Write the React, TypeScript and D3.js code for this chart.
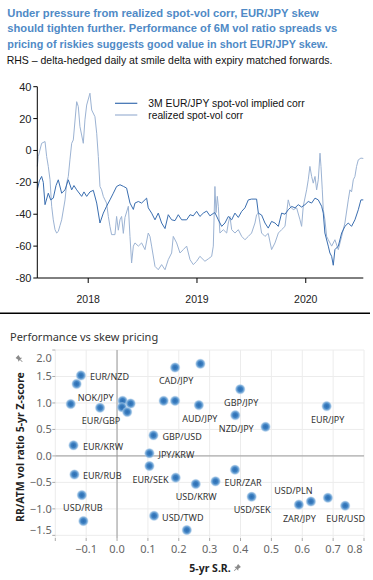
import React, { useLayoutEffect, useRef } from "react";
import * as d3 from "d3";

const titleLines = [
  "Under pressure from realized spot-vol corr, EUR/JPY skew",
  "should tighten further. Performance of 6M vol ratio spreads vs",
  "pricing of riskies suggests good value in short EUR/JPY skew.",
];
const subtitle = "RHS \u2013 delta-hedged daily at smile delta with expiry matched forwards.";

// top chart: time in decimal years, value in corr points
const seriesNames = ["3M EUR/JPY spot-vol implied corr", "realized spot-vol corr"];
const yearTicks = [2018, 2019, 2020];
const corrTicks = [40, 20, 0, -20, -40, -60, -80];

const impliedCorr: [number, number][] = [
  [2017.532, -24.7], [2017.551, -19], [2017.572, -16.3], [2017.587, -20], [2017.603, -34],
  [2017.633, -26.8], [2017.655, -31], [2017.679, -29.9], [2017.704, -22], [2017.725, -18.4],
  [2017.756, -26.8], [2017.787, -24.7], [2017.817, -18.4], [2017.848, -24.7], [2017.869, -22],
  [2017.894, -24.7], [2017.94, -28.8], [2017.961, -26], [2017.986, -28.8], [2018.016, -26],
  [2018.047, -25], [2018.078, -33], [2018.108, -45.5], [2018.139, -39.3], [2018.169, -35],
  [2018.2, -31], [2018.231, -26.8], [2018.261, -22.6], [2018.292, -21.5], [2018.323, -22.5],
  [2018.353, -23.6], [2018.384, -33], [2018.415, -37], [2018.43, -33], [2018.461, -32],
  [2018.491, -33], [2018.537, -29.9], [2018.552, -36], [2018.583, -39.3], [2018.614, -43.5],
  [2018.644, -39.3], [2018.675, -45.5], [2018.706, -49], [2018.736, -40.3], [2018.767, -43.5],
  [2018.798, -44], [2018.828, -40.3], [2018.859, -43.5], [2018.905, -43.5], [2018.936, -40.3],
  [2018.966, -41], [2018.997, -38.2], [2019.027, -41.4], [2019.058, -39.3], [2019.089, -38],
  [2019.119, -41], [2019.15, -39.5], [2019.165, -39], [2019.196, -43.5], [2019.227, -47.6],
  [2019.257, -45.5], [2019.288, -41.4], [2019.319, -43.5], [2019.349, -39.3], [2019.38, -42],
  [2019.411, -38.2], [2019.441, -36], [2019.472, -31], [2019.502, -30.5], [2019.548, -30.5],
  [2019.564, -39.3], [2019.594, -40.5], [2019.625, -45.5], [2019.655, -48.7], [2019.686, -44.5],
  [2019.717, -45.5], [2019.748, -47.6], [2019.778, -39.3], [2019.809, -40], [2019.839, -37.2],
  [2019.87, -35.1], [2019.901, -36], [2019.931, -34], [2019.962, -35.5], [2019.993, -34],
  [2020.023, -32], [2020.054, -33], [2020.085, -29.9], [2020.115, -31], [2020.146, -35],
  [2020.161, -39.3], [2020.176, -51.8], [2020.207, -60], [2020.222, -64.3], [2020.238, -66.4],
  [2020.253, -72], [2020.268, -62.2], [2020.299, -60], [2020.33, -51.8], [2020.36, -47.6],
  [2020.391, -45.5], [2020.421, -47.6], [2020.452, -43.5], [2020.483, -37.2], [2020.507, -31],
  [2020.529, -31],
];

const realizedCorr: [number, number][] = [
  [2017.532, -10], [2017.541, -3.8], [2017.572, 4.5], [2017.603, 5.6], [2017.618, -3.8],
  [2017.633, -10], [2017.649, -18.4], [2017.664, -35], [2017.679, -43.5], [2017.695, -49.7],
  [2017.71, -51.8], [2017.725, -50.8], [2017.741, -47], [2017.756, -43.5], [2017.787, -31],
  [2017.802, -20.5], [2017.817, -16.3], [2017.832, -5.9], [2017.848, 4.5], [2017.863, 6.6],
  [2017.894, 30.6], [2017.909, 27.5], [2017.924, 15], [2017.955, 4.5], [2017.97, 19.2],
  [2017.986, 28.5], [2018.016, 35.9], [2018.032, 25.4], [2018.062, 21.2], [2018.078, 10.8],
  [2018.093, -3.8], [2018.108, -22.6], [2018.123, -24.7], [2018.139, -28.8], [2018.154, -31],
  [2018.169, -33], [2018.185, -41.4], [2018.2, -47.6], [2018.215, -52.8], [2018.246, -52.8],
  [2018.261, -41.4], [2018.277, -50], [2018.292, -43.5], [2018.307, -41.4], [2018.323, -52],
  [2018.338, -42], [2018.369, -35], [2018.384, -53.9], [2018.399, -70.6], [2018.415, -60],
  [2018.43, -58], [2018.461, -60], [2018.491, -58], [2018.522, -62.2], [2018.552, -51.8],
  [2018.568, -54], [2018.583, -60], [2018.614, -72.7], [2018.644, -74.8], [2018.675, -71.6],
  [2018.706, -74.8], [2018.736, -68.5], [2018.767, -64.3], [2018.782, -53.9], [2018.813, -58],
  [2018.844, -64.3], [2018.874, -62.2], [2018.905, -60], [2018.936, -68.5], [2018.966, -71.6],
  [2018.997, -69.5], [2019.027, -66.4], [2019.073, -69.5], [2019.104, -68], [2019.135, -66.4],
  [2019.15, -60], [2019.165, -22.6], [2019.175, -39], [2019.187, -28.8], [2019.196, -35],
  [2019.211, -51.8], [2019.242, -49.7], [2019.273, -51.8], [2019.288, -45.5], [2019.303, -41.4],
  [2019.319, -49.7], [2019.349, -51.8], [2019.38, -49.7], [2019.411, -53.9], [2019.441, -56],
  [2019.472, -53.9], [2019.502, -51.8], [2019.533, -45.5], [2019.548, -40.3], [2019.564, -39.3],
  [2019.579, -45.5], [2019.594, -51.8], [2019.625, -53.9], [2019.655, -52], [2019.686, -62.2],
  [2019.717, -58], [2019.748, -51.8], [2019.778, -49.7], [2019.809, -47.6], [2019.839, -31],
  [2019.855, -35], [2019.885, -37.2], [2019.916, -36], [2019.947, -43.5], [2019.962, -47.6],
  [2019.977, -35], [2020.008, -24.7], [2020.023, -18.4], [2020.038, -10], [2020.054, -16.3],
  [2020.069, -20.5], [2020.085, -16.3], [2020.1, -24.7], [2020.115, -18.4], [2020.131, -1.7],
  [2020.14, -10], [2020.152, -24.7], [2020.161, -37.2], [2020.176, -43.5], [2020.192, -53.9],
  [2020.207, -56], [2020.238, -60], [2020.268, -56], [2020.299, -62.2], [2020.33, -53.9],
  [2020.36, -45.5], [2020.391, -31], [2020.406, -24.7], [2020.421, -26], [2020.437, -18.4],
  [2020.452, -16.3], [2020.467, -10], [2020.483, -5.9], [2020.507, -4.8], [2020.529, -5],
];

// bottom chart
const scatterTitle = "Performance vs skew pricing";
const xTitle = "5-yr S.R.";
const yTitle = "RR/ATM vol ratio 5-yr Z-score";
const pairLabels = [
  "EUR/NZD", "NOK/JPY", "", "EUR/GBP", "", "", "", "", "", "", "CAD/JPY", "", "AUD/JPY",
  "GBP/JPY", "NZD/JPY", "", "EUR/JPY", "GBP/USD", "JPY/KRW", "EUR/KRW", "EUR/RUB", "EUR/SEK",
  "", "USD/KRW", "EUR/ZAR", "", "USD/SEK", "ZAR/JPY", "USD/PLN", "", "EUR/USD", "USD/RUB", "",
  "USD/TWD", "",
];
const sharpe = [
  -0.117, -0.131, -0.15, -0.055, 0.018, 0.016, 0.044, 0.033, 0.151, 0.188, 0.188, 0.27, 0.265,
  0.399, 0.383, 0.481, 0.679, 0.118, 0.105, -0.141, -0.138, 0.105, 0.19, 0.255, 0.319, 0.382,
  0.436, 0.589, 0.628, 0.683, 0.739, -0.114, -0.109, 0.12, 0.226,
];
const zScore = [
  1.52, 1.36, 0.98, 0.91, 1.04, 0.92, 0.99, 0.83, 1.04, 1.04, 1.67, 1.74, 0.96,
  1.26, 0.77, 0.55, 0.94, 0.39, 0.05, 0.2, -0.35, -0.19, -0.41, -0.53, -0.48, -0.26,
  -0.77, -0.92, -0.86, -0.79, -0.94, -0.74, -1.23, -1.13, -1.4,
];
const srTicks = [-0.1, 0, 0.1, 0.2, 0.3, 0.4, 0.5, 0.6, 0.7, 0.8];
const zTicks = [2, 1.5, 1, 0.5, 0, -0.5, -1, -1.5];

// label offsets from the mark: dx, dy (baseline), anchor
const labelPlace: Record<string, [number, number, string]> = {
  "EUR/NZD": [9, 5, "start"],
  "NOK/JPY": [19, 17.5, "middle"],
  "EUR/GBP": [1, 16, "middle"],
  "CAD/JPY": [1, 17, "middle"],
  "GBP/JPY": [1, 17, "middle"],
  "AUD/JPY": [1, 16.5, "middle"],
  "NZD/JPY": [1, 17, "middle"],
  "EUR/JPY": [1, 17, "middle"],
  "GBP/USD": [9, 5, "start"],
  "JPY/KRW": [9, 5, "start"],
  "EUR/KRW": [9.5, 4.5, "start"],
  "EUR/RUB": [8.5, 5, "start"],
  "EUR/SEK": [1, 17.5, "middle"],
  "USD/KRW": [0.5, 16.5, "middle"],
  "EUR/ZAR": [9, 4.5, "start"],
  "USD/SEK": [0.5, 16, "middle"],
  "USD/PLN": [-17.5, -7, "middle"],
  "ZAR/JPY": [0.5, 17.5, "middle"],
  "EUR/USD": [0.5, 16.5, "middle"],
  "USD/RUB": [1, 15.5, "middle"],
  "USD/TWD": [8, 5, "start"],
};

const W = 373;
const H = 580;
const topFont = "'Liberation Sans', Arial, sans-serif";
const narrowFont = "'Liberation Sans Narrow', 'Arial Narrow', 'Liberation Sans', Arial, sans-serif";
const botFont = "'Noto Sans', 'Open Sans', sans-serif";
const impliedColor = "#3a6eb0";
const realizedColor = "#9cb3d3";
const titleColor = "#4f8ac6";

function Pin({ x, y, rotate = 0 }: { x: number; y: number; rotate?: number }) {
  return (
    <g transform={`translate(${x},${y}) rotate(${rotate + 45})`} fill="#8a8a8a" stroke="none">
      <path d="M-2,-3.5 L2,-3.5 L1.4,-0.5 L2.8,1 L-2.8,1 L-1.4,-0.5 Z" />
      <rect x={-0.4} y={1} width={0.8} height={3} />
    </g>
  );
}

export default function App() {
  const svgRef = useRef<SVGSVGElement>(null);

  // scale fonts so each heading line spans the same width as in the source
  useLayoutEffect(() => {
    const svg = d3.select(svgRef.current);
    svg.selectAll<SVGTextElement, unknown>("text[data-fit]").each(function () {
      const target = +(this.getAttribute("data-fit") || 0);
      const base = parseFloat(this.getAttribute("font-size") || "12");
      const len = this.getComputedTextLength();
      if (len > 0 && target > 0) this.setAttribute("font-size", String(base * (target / len)));
    });
  }, []);

  const allT = impliedCorr.concat(realizedCorr).map((d) => d[0]);
  const x = d3.scaleLinear().domain(d3.extent(allT) as [number, number]).range([37.3, 363.3]);
  const y = d3.scaleLinear().domain([-80, 40]).range([278, 86.7]);
  const line = d3
    .line<[number, number]>()
    .x((d) => x(d[0]))
    .y((d) => y(d[1]));

  const sx = d3.scaleLinear().domain([-0.2, 0.8]).range([55.3, 364]);
  const sy = d3.scaleLinear().domain([-1.55, 2]).range([538, 350]);
  const [plotL, plotR] = sx.range();
  const [plotB, plotT] = sy.range();

  return (
    <svg
      ref={svgRef}
      width={W}
      height={H}
      style={{ position: "absolute", left: 0, top: 0, background: "#fff" }}
    >
      <defs>
        <radialGradient id="dotGrad">
          <stop offset="0%" stopColor="#2b6cb0" />
          <stop offset="45%" stopColor="#3d80c2" />
          <stop offset="75%" stopColor="#78abd9" stopOpacity={0.9} />
          <stop offset="100%" stopColor="#b9d4ee" stopOpacity={0.3} />
        </radialGradient>
      </defs>

      {/* heading */}
      {titleLines.map((t, i) => (
        <text
          key={i}
          x={7.3}
          y={16.5 + i * 15.9}
          fontFamily={narrowFont}
          fontWeight="bold"
          fontSize={13.5}
          fill={titleColor}
          data-fit={[312, 330, 321][i]}
        >
          {t}
        </text>
      ))}
      <text x={6.7} y={64.3} fontFamily={narrowFont} fontSize={12} fill="#111" data-fit={326}>
        {subtitle}
      </text>

      {/* top chart */}
      <g fontFamily={topFont} fontSize={11} fill="#222">
        {corrTicks.map((v) => (
          <g key={v}>
            <line x1={x.range()[0] - 4} x2={x.range()[0]} y1={y(v)} y2={y(v)} stroke="#000" />
            <text x={31.5} y={y(v) + 4} textAnchor="end">
              {v}
            </text>
          </g>
        ))}
        {yearTicks.map((t) => (
          <g key={t}>
            <line x1={x(t)} x2={x(t)} y1={y(-80)} y2={y(-80) + 5} stroke="#000" />
            <text x={x(t)} y={303} textAnchor="middle" fontSize={10.5}>
              {t}
            </text>
          </g>
        ))}
      </g>
      <path d={line(realizedCorr) || ""} fill="none" stroke={realizedColor} strokeWidth={1} />
      <path d={line(impliedCorr) || ""} fill="none" stroke={impliedColor} strokeWidth={1} />
      <line x1={x.range()[0]} x2={x.range()[0]} y1={y(40)} y2={y(-80)} stroke="#000" />
      <line x1={x.range()[0]} x2={x.range()[1]} y1={y(-80)} y2={y(-80)} stroke="#000" />

      {/* legend */}
      {seriesNames.map((n, i) => (
        <g key={n}>
          <line
            x1={115}
            x2={137.3}
            y1={103.3 + i * 11.7}
            y2={103.3 + i * 11.7}
            stroke={i === 0 ? impliedColor : realizedColor}
            strokeWidth={1.2}
          />
          <text
            x={148.3}
            y={107.2 + i * 11.7}
            fontFamily={topFont}
            fontSize={10.5}
            fill="#111"
            data-fit={i === 0 ? 156.7 : 95}
          >
            {n}
          </text>
        </g>
      ))}

      {/* divider */}
      <line x1={0} x2={370} y1={313.3} y2={313.3} stroke="#000" strokeWidth={1.4} />

      {/* scatter */}
      <text x={10} y={341} fontFamily={botFont} fontSize={11} fill="#333">
        {scatterTitle}
      </text>

      <g>
        {zTicks.map((v) => (
          <line key={v} x1={plotL} x2={plotR} y1={sy(v)} y2={sy(v)} stroke="#ececec" />
        ))}
        {[-0.2].concat(srTicks).map((v) => (
          <line key={v} x1={sx(v)} x2={sx(v)} y1={plotT} y2={plotB} stroke="#ececec" />
        ))}
        <line x1={plotL} x2={plotR} y1={sy(0)} y2={sy(0)} stroke="#9a9a9a" />
        <line x1={sx(0)} x2={sx(0)} y1={plotT} y2={plotB} stroke="#9a9a9a" />
        {zTicks.map((v) => (
          <line key={v} x1={plotL - 3} x2={plotL} y1={sy(v)} y2={sy(v)} stroke="#aaa" />
        ))}
        {[-0.2].concat(srTicks).map((v) => (
          <line key={v} x1={sx(v)} x2={sx(v)} y1={plotB} y2={plotB + 3} stroke="#aaa" />
        ))}
      </g>

      <g fontFamily={botFont} fontSize={11} fill="#666">
        {zTicks.map((v) => (
          <text
            key={v}
            x={51.7}
            y={Math.min(Math.max(sy(v), 357.7), 530) + 4}
            textAnchor="end"
          >
            {d3.format(".1f")(v)}
          </text>
        ))}
        {srTicks.map((v, i) => (
          <text
            key={v}
            x={i === srTicks.length - 1 ? plotR - 1.5 : sx(v)}
            y={553}
            textAnchor={i === srTicks.length - 1 ? "end" : "middle"}
          >
            {d3.format(".1f")(v)}
          </text>
        ))}
      </g>

      <text x={210} y={572} textAnchor="middle" fontFamily={botFont} fontWeight="bold" fontSize={10.5} fill="#222">
        {xTitle}
      </text>
      <Pin x={237} y={568} />
      <text
        transform={`translate(23.5,${447}) rotate(-90)`}
        textAnchor="middle"
        fontFamily={botFont}
        fontWeight="bold"
        fontSize={10.5}
        fill="#222"
      >
        {yTitle}
      </text>
      <Pin x={19.5} y={359} rotate={-90} />

      {sharpe.map((s, i) => (
        <circle key={i} cx={sx(s)} cy={sy(zScore[i])} r={5.3} fill="url(#dotGrad)" />
      ))}
      <g fontFamily={botFont} fontSize={9} fill="#333">
        {pairLabels.map((lab, i) => {
          if (!lab) return null;
          const p = labelPlace[lab] || [9, 4, "start"];
          return (
            <text key={lab} x={sx(sharpe[i]) + p[0]} y={sy(zScore[i]) + p[1]} textAnchor={p[2]}>
              {lab}
            </text>
          );
        })}
      </g>
    </svg>
  );
}
